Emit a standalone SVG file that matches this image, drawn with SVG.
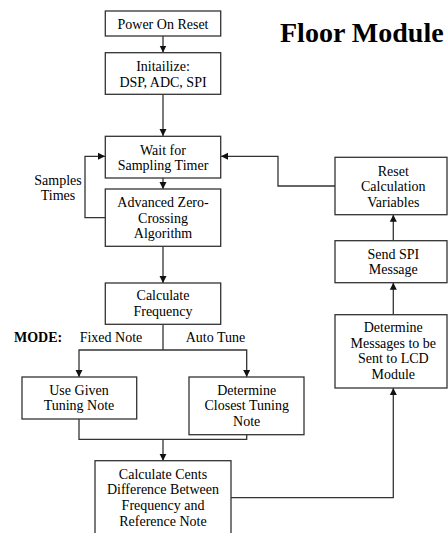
<svg xmlns="http://www.w3.org/2000/svg" width="448" height="533" viewBox="0 0 448 533">
<defs>
<marker id="ah" markerWidth="8" markerHeight="8" refX="7" refY="4" orient="auto" markerUnits="userSpaceOnUse">
<path d="M0,0.5 L7,4 L0,7.5 Z" fill="#111"/>
</marker>
</defs>
<style>
.box{fill:#fff;stroke:#333;stroke-width:1.3}
.t{font-family:"Liberation Serif","Times New Roman",serif;font-size:14px;fill:#000;text-anchor:middle}
.l{font-family:"Liberation Serif","Times New Roman",serif;font-size:14px;fill:#000}
.c{fill:none;stroke:#333;stroke-width:1.3}
.ca{fill:none;stroke:#333;stroke-width:1.3;marker-end:url(#ah)}
</style>
<rect width="448" height="533" fill="#fff"/>
<text x="280" y="42" style="font-family:'Liberation Serif','Times New Roman',serif;font-size:28px;font-weight:bold;fill:#000">Floor Module</text>
<g id="connectors">
<line class="ca" x1="163" y1="36" x2="163" y2="52.5"/>
<line class="ca" x1="163" y1="94.3" x2="163" y2="136"/>
<line class="ca" x1="163" y1="178" x2="163" y2="189"/>
<polyline class="ca" points="105,217.7 85,217.7 85,156.3 105,156.3"/>
<line class="ca" x1="163" y1="246.3" x2="163" y2="283"/>
<polyline class="c" points="163,324.3 163,350"/>
<polyline class="ca" points="163,350 79,350 79,377"/>
<polyline class="ca" points="163,350 246.7,350 246.7,377"/>
<polyline class="c" points="79,419 79,439.3 246.7,439.3 246.7,434.7"/>
<line class="ca" x1="163" y1="439.3" x2="163" y2="460.7"/>
<polyline class="ca" points="231,497.7 393.3,497.7 393.3,388"/>
<line class="ca" x1="393.3" y1="314.7" x2="393.3" y2="282.7"/>
<line class="ca" x1="393.3" y1="240.7" x2="393.3" y2="214.7"/>
<polyline class="ca" points="335,186 278,186 278,156.3 221,156.3"/>
</g>
<g id="power-on-reset">
<rect class="box" x="105.3" y="11" width="115.4" height="25"/>
<text class="t" x="163" y="28.5">Power On Reset</text>
</g>
<g id="initialize">
<rect class="box" x="105.3" y="52.7" width="115.4" height="41.6"/>
<text class="t" x="163" y="71">Initailize:</text>
<text class="t" x="163" y="86.5">DSP, ADC, SPI</text>
</g>
<g id="wait-for-timer">
<rect class="box" x="105.3" y="136.3" width="115.4" height="41.7"/>
<text class="t" x="163" y="155">Wait for</text>
<text class="t" x="163" y="170">Sampling Timer</text>
</g>
<g id="samples-times-label">
<text class="t" x="58" y="184.5">Samples</text>
<text class="t" x="58" y="200">Times</text>
</g>
<g id="zero-crossing">
<rect class="box" x="105.3" y="189" width="115.4" height="57.3"/>
<text class="t" x="163" y="207">Advanced Zero-</text>
<text class="t" x="163" y="222.5">Crossing</text>
<text class="t" x="163" y="238">Algorithm</text>
</g>
<g id="calc-frequency">
<rect class="box" x="105.3" y="283" width="115.4" height="41.3"/>
<text class="t" x="163" y="300.3">Calculate</text>
<text class="t" x="163" y="316">Frequency</text>
</g>
<g id="mode-labels">
<text x="14" y="342" style="font-family:'Liberation Serif','Times New Roman',serif;font-size:14px;font-weight:bold;fill:#000">MODE:</text>
<text class="t" x="111" y="341.5">Fixed Note</text>
<text class="t" x="215.5" y="341.5">Auto Tune</text>
</g>
<g id="use-given">
<rect class="box" x="22" y="377" width="114.7" height="42"/>
<text class="t" x="79" y="394.5">Use Given</text>
<text class="t" x="79" y="410">Tuning Note</text>
</g>
<g id="determine-closest">
<rect class="box" x="189" y="377" width="115" height="57.7"/>
<text class="t" x="246.7" y="394.5">Determine</text>
<text class="t" x="246.7" y="410">Closest Tuning</text>
<text class="t" x="246.7" y="425.7">Note</text>
</g>
<g id="calc-cents">
<rect class="box" x="95" y="460.7" width="136" height="80"/>
<text class="t" x="163" y="478.5">Calculate Cents</text>
<text class="t" x="163" y="494">Difference Between</text>
<text class="t" x="163" y="509.5">Frequency and</text>
<text class="t" x="163" y="525.5">Reference Note</text>
</g>
<g id="determine-messages">
<rect class="box" x="335" y="314.7" width="112" height="73.3"/>
<text class="t" x="393.3" y="332">Determine</text>
<text class="t" x="393.3" y="347.5">Messages to be</text>
<text class="t" x="393.3" y="363.3">Sent to LCD</text>
<text class="t" x="393.3" y="379">Module</text>
</g>
<g id="send-spi">
<rect class="box" x="335" y="240.7" width="112" height="42"/>
<text class="t" x="393.3" y="258.5">Send SPI</text>
<text class="t" x="393.3" y="274">Message</text>
</g>
<g id="reset-calc">
<rect class="box" x="335" y="157.3" width="112" height="57.4"/>
<text class="t" x="393.3" y="175.5">Reset</text>
<text class="t" x="393.3" y="191">Calculation</text>
<text class="t" x="393.3" y="206.5">Variables</text>
</g>
</svg>
